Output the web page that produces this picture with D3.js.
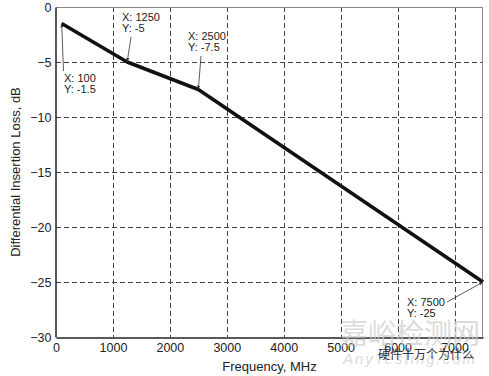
<!DOCTYPE html>
<html>
<head>
<meta charset="utf-8">
<script src="https://cdn.jsdelivr.net/npm/d3@7"></script>
<style>
  body { margin: 0; background: #fff; }
  svg { display: block; font-family: "Liberation Sans", Arial, sans-serif; }
</style>
</head>
<body>
<svg id="chart" width="489" height="376"></svg>
<script>
// data
const freqs = [100, 1250, 2500, 7500];
const loss = [-1.5, -5, -7.5, -25];
const xTicks = [0, 1000, 2000, 3000, 4000, 5000, 6000, 7000];
const yTicks = [0, -5, -10, -15, -20, -25, -30];
// datatip labels and where their arrows start
const tips = [
  { i: 0, lines: ["X: 100", "Y: -1.5"], tx: 64, ty: 82, ax: 63.5, ay: 71 },
  { i: 1, lines: ["X: 1250", "Y: -5"], tx: 122, ty: 21, ax: 131, ay: 37 },
  { i: 2, lines: ["X: 2500", "Y: -7.5"], tx: 188, ty: 40, ax: 201, ay: 56 },
  { i: 3, lines: ["X: 7500", "Y: -25"], tx: 407, ty: 306, ax: 447, ay: 302 }
];

const svg = d3.select("#chart");
const margin = { left: 56, right: 6, top: 7, bottom: 39 };
const W = 489, H = 376;

const x = d3.scaleLinear().domain([0, 7500]).range([margin.left, W - margin.right]);
const y = d3.scaleLinear().domain([-30, 0]).range([H - margin.bottom, margin.top]);

// arrow marker
svg.append("defs").append("marker")
  .attr("id", "arr")
  .attr("viewBox", "0 0 10 10")
  .attr("refX", 10).attr("refY", 5)
  .attr("markerWidth", 5).attr("markerHeight", 5)
  .attr("orient", "auto")
  .append("path").attr("d", "M0,1 L10,5 L0,9 z").attr("fill", "#333");

// grid
const grid = svg.append("g").attr("stroke", "#444").attr("stroke-width", 1)
  .attr("stroke-dasharray", "5,3");
grid.selectAll("line.gx").data(xTicks.filter(d => d > 0)).enter().append("line")
  .attr("x1", d => Math.round(x(d)) + 0.5).attr("x2", d => Math.round(x(d)) + 0.5)
  .attr("y1", y(0)).attr("y2", y(-30));
grid.selectAll("line.gy").data(yTicks.filter(d => d < 0 && d > -30)).enter().append("line")
  .attr("y1", d => Math.round(y(d)) + 0.5).attr("y2", d => Math.round(y(d)) + 0.5)
  .attr("x1", x(0)).attr("x2", x(7500));

// frame: top/right gray, left/bottom black
svg.append("line").attr("x1", x(0)).attr("x2", x(7500)).attr("y1", y(0) + 0.5).attr("y2", y(0) + 0.5)
  .attr("stroke", "#888");
svg.append("line").attr("x1", x(7500) - 0.5).attr("x2", x(7500) - 0.5).attr("y1", y(0)).attr("y2", y(-30))
  .attr("stroke", "#888");

// axes
const xAxis = svg.append("g").attr("transform", `translate(0,${Math.round(y(-30)) + 0.5})`)
  .call(d3.axisBottom(x).tickValues(xTicks).tickSize(0).tickPadding(6).tickFormat(d3.format("d")));
const yAxis = svg.append("g").attr("transform", `translate(${Math.round(x(0)) - 0.5},0)`)
  .call(d3.axisLeft(y).tickValues(yTicks).tickSize(0).tickPadding(4).tickFormat(d3.format("d")));
[xAxis, yAxis].forEach(a => {
  a.select(".domain").attr("stroke", "#222").attr("stroke-width", 1.5);
  a.selectAll("text").attr("font-size", 12.5).attr("fill", "#222")
    .attr("font-family", "Liberation Sans, Arial, sans-serif");
});

// axis titles
svg.append("text").attr("x", (x(0) + x(7500)) / 2).attr("y", 371)
  .attr("text-anchor", "middle").attr("font-size", 13).attr("fill", "#222")
  .text("Frequency, MHz");
svg.append("text").attr("transform", `translate(20,${(y(0) + y(-30)) / 2}) rotate(-90)`)
  .attr("text-anchor", "middle").attr("font-size", 13).attr("fill", "#222")
  .text("Differential Insertion Loss, dB");

// data line
const pts = freqs.map((f, i) => [f, loss[i]]);
svg.append("path").datum(pts)
  .attr("d", d3.line().x(d => x(d[0])).y(d => y(d[1])))
  .attr("fill", "none").attr("stroke", "#111").attr("stroke-width", 3.5)
  .attr("stroke-linejoin", "round");

// datatips
tips.forEach(t => {
  const px = x(freqs[t.i]), py = y(loss[t.i]);
  svg.append("line").attr("x1", t.ax).attr("y1", t.ay).attr("x2", px).attr("y2", py)
    .attr("stroke", "#333").attr("stroke-width", 0.8).attr("marker-end", "url(#arr)");
  const tx = svg.append("text").attr("x", t.tx).attr("y", t.ty)
    .attr("font-size", 11).attr("fill", "#222");
  t.lines.forEach((l, k) => tx.append("tspan").attr("x", t.tx).attr("dy", k ? 11 : 0).text(l));
});

// watermark
svg.append("text").attr("x", 410).attr("y", 344).attr("text-anchor", "middle")
  .attr("font-size", 28).attr("fill", "#ccc").attr("opacity", 0.7)
  .attr("font-family", "Noto Sans CJK SC").text("嘉峪检测网");
svg.append("text").attr("x", 410).attr("y", 364).attr("text-anchor", "middle")
  .attr("font-size", 15).attr("font-style", "italic").attr("fill", "#ccc").attr("opacity", 0.7)
  .attr("letter-spacing", 2).text("AnyTesting.com");
svg.append("text").attr("x", 378).attr("y", 359)
  .attr("font-size", 12).attr("fill", "#333")
  .attr("font-family", "Noto Sans CJK SC").text("硬件十万个为什么");
</script>
</body>
</html>
